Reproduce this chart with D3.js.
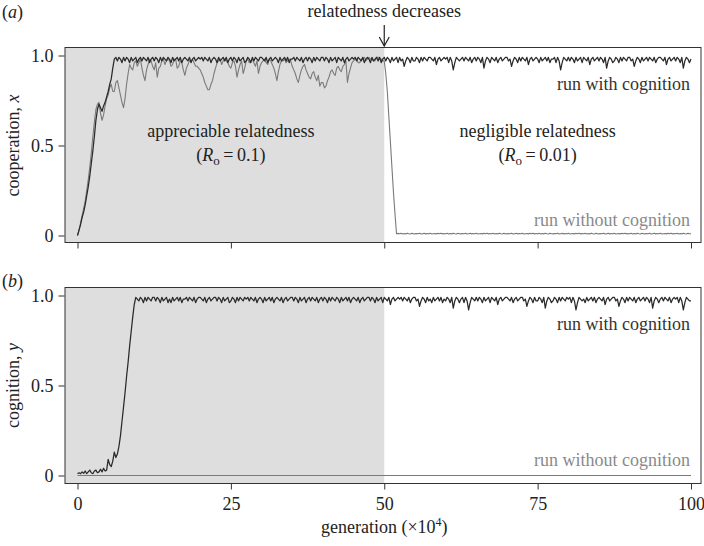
<!DOCTYPE html>
<html><head><meta charset="utf-8">
<script src="https://cdn.jsdelivr.net/npm/d3@7"></script>
<style>body{margin:0;background:#fff}svg{display:block}text{font-family:"Liberation Serif","Times New Roman",serif;}</style>
</head><body>
<svg id="chart" width="704" height="546"></svg>
<script>
// sampling grid of generations (×10^4)
const generations = d3.range(0, 100.125, 0.25);
const xTicks = [0, 25, 50, 75, 100];
const yTicks = [0, 0.5, 1];
const yTickLabels = ["0", "0.5", "1.0"];
const shiftAt = 50;

// panel (a) cooperation, run with cognition
const coopWith = [
0.00,0.03,0.06,0.10,0.13,0.17,0.22,0.27,0.33,0.40,
0.47,0.55,0.64,0.70,0.73,0.71,0.69,0.72,0.74,0.77,
0.80,0.84,0.87,0.93,0.98,0.99,0.97,0.99,0.98,0.96,
.99,.97,.99,.98,.96,.99,.97,.98,.99,.96,
.98,.99,.97,.99,.98,.97,.99,.96,.98,.99,
.97,.99,.98,.96,.99,.97,.99,.98,.97,.99,
.98,.96,.99,.97,.98,.99,.97,.99,.96,.98,
.99,.98,.97,.99,.96,.98,.99,.97,.98,.99,
.98,.99,.97,.99,.98,.97,.99,.96,.98,.99,
.98,.96,.99,.97,.98,.99,.97,.99,.96,.98,
.99,.97,.99,.98,.96,.99,.97,.98,.99,.96,
.97,.99,.98,.96,.99,.97,.99,.98,.97,.99,
.99,.98,.97,.99,.96,.98,.99,.97,.98,.99,
.98,.96,.99,.97,.98,.99,.97,.99,.96,.98,
.98,.99,.97,.99,.98,.97,.99,.96,.98,.99,
.97,.99,.98,.96,.99,.97,.99,.98,.97,.99,
.99,.97,.99,.98,.96,.99,.97,.98,.99,.96,
.99,.98,.97,.99,.96,.98,.99,.97,.98,.99,
.98,.99,.97,.99,.98,.97,.99,.96,.98,.99,
.98,.96,.99,.97,.98,.99,.97,.99,.96,.98,
.99,.97,.99,.98,.96,.99,.97,.98,.99,.96,
.99,.97,.98,.94,.97,.99,.98,.96,.99,.97,
.97,.99,.98,.96,.99,.97,.99,.98,.97,.99,
.99,.98,.97,.99,.95,.98,.99,.97,.98,.99,
.98,.99,.96,.99,.97,.92,.96,.99,.98,.97,
.98,.99,.97,.99,.98,.97,.99,.96,.98,.99,
.97,.99,.98,.96,.99,.93,.97,.99,.98,.96,
.99,.98,.97,.99,.96,.98,.99,.97,.98,.99,
.99,.97,.98,.94,.97,.99,.98,.96,.99,.97,
.99,.98,.97,.99,.95,.98,.99,.97,.98,.99,
.98,.96,.99,.97,.98,.99,.97,.99,.96,.98,
.98,.99,.96,.99,.97,.92,.96,.99,.98,.97,
.99,.97,.99,.98,.96,.99,.97,.98,.99,.96,
.99,.98,.97,.99,.95,.98,.99,.97,.98,.99,
.97,.99,.98,.96,.99,.93,.97,.99,.98,.96,
.97,.99,.98,.96,.99,.97,.99,.98,.97,.99,
.99,.97,.98,.94,.97,.99,.98,.96,.99,.97,
.98,.99,.97,.99,.98,.97,.99,.96,.98,.99,
.99,.98,.97,.99,.95,.98,.99,.97,.98,.99,
.97,.99,.98,.96,.99,.93,.97,.99,.98,.96,
.98];

// panel (a) cooperation, run without cognition
const coopWithout = [
0.00,0.03,0.07,0.11,0.15,0.19,0.25,0.31,0.38,0.46,
0.55,0.63,0.70,0.73,0.74,0.68,0.64,0.67,0.72,0.76,
0.78,0.82,0.84,0.80,0.80,0.85,0.86,0.82,0.78,0.74,
0.71,0.76,0.84,0.90,0.95,0.93,0.92,0.96,0.97,0.94,
0.96,0.98,0.93,0.89,0.86,0.92,0.95,0.98,0.97,0.94,
0.92,0.96,0.88,0.93,0.94,0.97,0.98,0.95,0.97,0.98,
0.97,0.94,0.95,0.98,0.98,0.93,0.94,0.97,0.96,0.92,
0.89,0.93,0.95,0.97,0.97,0.98,0.96,0.94,0.94,0.93,
0.92,0.90,0.88,0.85,0.83,0.81,0.81,0.84,0.86,0.90,
0.93,0.96,0.97,0.98,0.95,0.97,0.98,0.97,0.96,0.94,
0.93,0.96,0.97,0.94,0.88,0.92,0.95,0.97,0.90,0.93,
0.97,0.98,0.96,0.97,0.98,0.96,0.94,0.97,0.90,0.94,
0.96,0.97,0.98,0.96,0.95,0.98,0.97,0.95,0.93,0.90,
0.86,0.91,0.95,0.97,0.97,0.98,0.96,0.97,0.98,0.97,
0.94,0.92,0.90,0.87,0.85,0.89,0.92,0.94,0.95,0.92,
0.90,0.88,0.87,0.90,0.91,0.88,0.86,0.89,0.83,0.85,
0.85,0.82,0.83,0.86,0.88,0.91,0.92,0.90,0.89,0.93,
0.94,0.92,0.91,0.94,0.95,0.97,0.85,0.90,0.93,0.96,
0.97,0.98,0.98,0.96,0.96,0.98,0.98,0.99,0.97,0.98,
0.99,0.98,0.98,0.97,0.97,0.99,0.99,0.98,0.98,0.97,
0.97,0.90,0.80,0.66,0.52,0.38,0.24,0.12,0.01,0.012,
.010,.012,.008,.011,.009,.013,.010,.008,.012,.010,
.009,.011,.010,.013,.008,.010,.012,.009,.011,.010,
.012,.008,.010,.011,.009,.012,.010,.013,.009,.011,
.010,.012,.008,.011,.009,.013,.010,.008,.012,.010,
.009,.011,.010,.013,.008,.010,.012,.009,.011,.010,
.012,.008,.010,.011,.009,.012,.010,.013,.009,.011,
.010,.012,.008,.011,.009,.013,.010,.008,.012,.010,
.009,.011,.010,.013,.008,.010,.012,.009,.011,.010,
.012,.008,.010,.011,.009,.012,.010,.013,.009,.011,
.010,.012,.008,.011,.009,.013,.010,.008,.012,.010,
.009,.011,.010,.013,.008,.010,.012,.009,.011,.010,
.012,.008,.010,.011,.009,.012,.010,.013,.009,.011,
.010,.012,.008,.011,.009,.013,.010,.008,.012,.010,
.009,.011,.010,.013,.008,.010,.012,.009,.011,.010,
.012,.008,.010,.011,.009,.012,.010,.013,.009,.011,
.010,.012,.008,.011,.009,.013,.010,.008,.012,.010,
.009,.011,.010,.013,.008,.010,.012,.009,.011,.010,
.012,.008,.010,.011,.009,.012,.010,.013,.009,.011,
.010,.012,.008,.011,.009,.013,.010,.008,.012,.010,
.010];

// panel (b) cognition, run with cognition
const cogWith = [
.010,.015,.010,.020,.012,.025,.010,.020,.030,.015,
.010,.025,.030,.015,.020,.035,.020,.040,.025,.030,
.09,.06,.05,.08,.13,.10,.12,.16,.22,.30,
.38,.46,.55,.63,.72,.80,.88,.95,.99,.98,
.97,.99,.98,.96,.99,.97,.99,.98,.97,.99,
.99,.97,.99,.98,.96,.99,.97,.98,.99,.96,
.98,.96,.99,.97,.98,.99,.97,.99,.96,.98,
.98,.99,.97,.99,.98,.97,.99,.96,.98,.99,
.99,.98,.97,.99,.96,.98,.99,.97,.98,.99,
.99,.97,.99,.98,.96,.99,.97,.98,.99,.96,
.97,.99,.98,.96,.99,.97,.99,.98,.97,.99,
.98,.99,.97,.99,.98,.97,.99,.96,.98,.99,
.98,.96,.99,.97,.98,.99,.97,.99,.96,.98,
.99,.98,.97,.99,.96,.98,.99,.97,.98,.99,
.99,.97,.99,.98,.96,.99,.97,.98,.99,.96,
.98,.99,.97,.99,.98,.97,.99,.96,.98,.99,
.97,.99,.98,.96,.99,.97,.99,.98,.97,.99,
.98,.96,.99,.97,.98,.99,.97,.99,.96,.98,
.99,.98,.97,.99,.96,.98,.99,.97,.98,.99,
.99,.97,.99,.98,.96,.99,.97,.98,.99,.96,
.99,.98,.97,.99,.95,.98,.99,.97,.98,.99,
.98,.99,.97,.99,.98,.97,.99,.96,.98,.99,
.99,.97,.98,.94,.97,.99,.98,.96,.99,.97,
.98,.96,.99,.97,.98,.99,.97,.99,.96,.98,
.97,.99,.98,.96,.99,.93,.97,.99,.98,.96,
.98,.99,.96,.99,.97,.92,.96,.99,.98,.97,
.99,.97,.99,.98,.96,.99,.97,.98,.99,.96,
.99,.98,.97,.99,.95,.98,.99,.97,.98,.99,
.99,.98,.97,.99,.96,.98,.99,.97,.98,.99,
.99,.97,.98,.94,.97,.99,.98,.96,.99,.97,
.97,.99,.98,.96,.99,.93,.97,.99,.98,.96,
.97,.99,.98,.96,.99,.97,.99,.98,.97,.99,
.98,.99,.96,.99,.97,.92,.96,.99,.98,.97,
.98,.96,.99,.97,.98,.99,.97,.99,.96,.98,
.99,.98,.97,.99,.95,.98,.99,.97,.98,.99,
.99,.97,.98,.94,.97,.99,.98,.96,.99,.97,
.99,.98,.97,.99,.96,.98,.99,.97,.98,.99,
.97,.99,.98,.96,.99,.93,.97,.99,.98,.96,
.98,.99,.97,.99,.98,.97,.99,.96,.98,.99,
.98,.99,.96,.99,.97,.92,.96,.99,.98,.97,
.97];

// panel (b) cognition, run without cognition (stays at zero)
const cogWithoutGen = [0, 25, 50, 75, 100];
const cogWithout = [0, 0, 0, 0, 0];

const svg = d3.select("#chart");
const FS = 18;
const dark = "#2a2a2a", grey = "#7a7a7a", shade = "#dedede";

const x = d3.scaleLinear().domain([0, 100]).range([77.5, 691]);
const boxL = 65, boxR = 701;

const panels = [
  {y: d3.scaleLinear().domain([0,1]).range([235.5,55.5]), top:47.5, bot:242.5,
   series:[{gen:generations, v:coopWithout, c:grey, w:1.1},{gen:generations, v:coopWith, c:dark, w:1.25}],
   ylab:["cooperation, ","x"], tag:"a"},
  {y: d3.scaleLinear().domain([0,1]).range([475.5,295.5]), top:287.5, bot:483.5,
   series:[{gen:cogWithoutGen, v:cogWithout, c:grey, w:1.1},{gen:generations, v:cogWith, c:dark, w:1.25}],
   ylab:["cognition, ","y"], tag:"b"}
];

panels.forEach((p, i) => {
  const g = svg.append("g");
  g.append("rect").attr("x", boxL).attr("y", p.top)
    .attr("width", x(shiftAt) - boxL).attr("height", p.bot - p.top).attr("fill", shade);
  p.series.forEach(s => {
    const line = d3.line().x((d, j) => x(s.gen[j])).y(d => p.y(d));
    g.append("path").datum(s.v).attr("d", line).attr("fill", "none")
      .attr("stroke", s.c).attr("stroke-width", s.w).attr("stroke-linejoin", "round");
  });
  g.append("rect").attr("x", boxL).attr("y", p.top).attr("width", boxR - boxL)
    .attr("height", p.bot - p.top).attr("fill", "none").attr("stroke", "#333").attr("stroke-width", 1);

  const ya = d3.axisLeft(p.y).tickValues(yTicks).tickFormat((d, k) => yTickLabels[k])
    .tickSize(6).tickPadding(5);
  const yg = g.append("g").attr("transform", `translate(${boxL - 0.5},0)`).call(ya);
  yg.attr("font-family", null);
  yg.select(".domain").remove();
  yg.selectAll("line").attr("stroke", "#333");
  yg.selectAll("text").attr("font-size", FS).attr("fill", "#222");

  const xa = d3.axisBottom(x).tickValues(xTicks).tickSize(6).tickPadding(8)
    .tickFormat(i === 1 ? d3.format("d") : () => "");
  const xg = g.append("g").attr("transform", `translate(0,${p.bot})`).call(xa);
  xg.attr("font-family", null);
  xg.select(".domain").remove();
  xg.selectAll("line").attr("stroke", "#333");
  xg.selectAll("text").attr("font-size", FS).attr("fill", "#222");

  const yl = svg.append("text").attr("transform", `translate(19,${p.y(0.5)}) rotate(-90)`)
    .attr("text-anchor", "middle").attr("font-size", FS).attr("fill", "#222");
  yl.append("tspan").text(p.ylab[0]);
  yl.append("tspan").attr("font-style", "italic").text(p.ylab[1]);

  const tg = svg.append("text").attr("x", 2).attr("y", i === 0 ? 18 : 287)
    .attr("font-size", FS).attr("fill", "#222");
  tg.append("tspan").text("(");
  tg.append("tspan").attr("font-style", "italic").text(p.tag);
  tg.append("tspan").text(")");

  svg.append("text").attr("x", 690).attr("y", p.y(0.985) + 32).attr("text-anchor", "end")
    .attr("font-size", FS).attr("fill", "#333").text("run with cognition");
  svg.append("text").attr("x", 690).attr("y", p.y(0) - 10).attr("text-anchor", "end")
    .attr("font-size", FS).attr("fill", "#8a8a8a").text("run without cognition");
});

function regionLabel(cx, title, rval) {
  svg.append("text").attr("x", cx).attr("y", 137).attr("text-anchor", "middle")
    .attr("font-size", FS).attr("fill", "#222").text(title);
  const t = svg.append("text").attr("x", cx).attr("y", 161).attr("text-anchor", "middle")
    .attr("font-size", FS).attr("fill", "#222");
  t.append("tspan").text("(");
  t.append("tspan").attr("font-style", "italic").text("R");
  t.append("tspan").attr("font-size", 13).attr("dy", 4).text("o");
  t.append("tspan").attr("dy", -4).text("\u2009=\u2009" + rval + ")");
}
regionLabel(x(25), "appreciable relatedness", "0.1");
regionLabel(x(75), "negligible relatedness", "0.01");

svg.append("text").attr("x", x(shiftAt)).attr("y", 17).attr("text-anchor", "middle")
  .attr("font-size", FS).attr("fill", "#222").text("relatedness decreases");
svg.append("line").attr("x1", x(shiftAt)).attr("x2", x(shiftAt)).attr("y1", 25).attr("y2", 46)
  .attr("stroke", "#222").attr("stroke-width", 1.2);
svg.append("path").attr("d", `M${x(shiftAt)-5},37 L${x(shiftAt)},46 L${x(shiftAt)+5},37`)
  .attr("fill", "none").attr("stroke", "#222").attr("stroke-width", 1.2);

const xt = svg.append("text").attr("x", x(50)).attr("y", 533).attr("text-anchor", "middle")
  .attr("font-size", FS).attr("fill", "#222");
xt.append("tspan").text("generation (\u00d710");
xt.append("tspan").attr("font-size", 12).attr("dy", -7).text("4");
xt.append("tspan").attr("dy", 7).text(")");
</script>
</body></html>
